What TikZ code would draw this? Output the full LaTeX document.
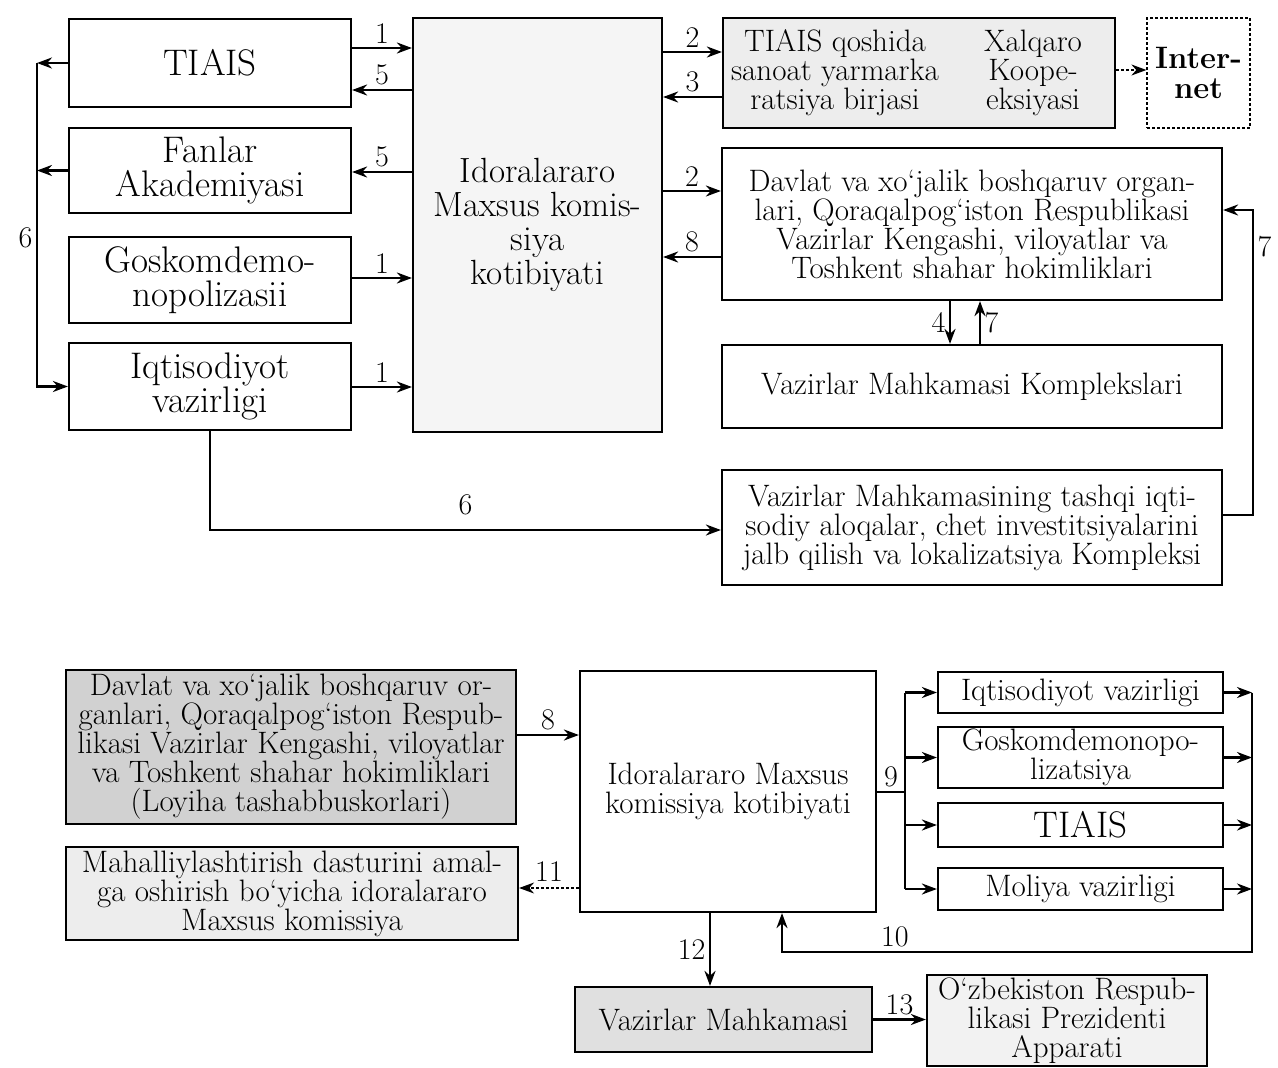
\documentclass[tikz,border=0pt]{standalone}
\usepackage{fontspec}
\usepackage{tikz}
\usetikzlibrary{positioning}
\usetikzlibrary{arrows.meta}
\newcommand{\boxfont}{\fontsize{31}{29}\selectfont}
\newcommand{\headfont}{\fontsize{37}{34}\selectfont}
\newcommand{\numfont}{\fontsize{30}{30}\selectfont}

\begin{document}
\begin{tikzpicture}[x=1pt, y=-1pt, line width=2.4pt, font=\numfont,
  >={Stealth[length=15pt, width=11pt]},
  block/.style={draw, line width=2.2pt, align=center, inner sep=0pt, font=\boxfont},
  headtext/.style={font=\headfont}]
\useasboundingbox (0,0) rectangle (1278,1068);

% upper scheme
\node[block, headtext, minimum width=282pt, minimum height=88pt] (tiais) at (210,63) {TIAIS};
\node[block, headtext, minimum width=282pt, minimum height=85pt] (fanlar) at (210,170.5) {Fanlar\\Akademiyasi};
\node[block, headtext, minimum width=282pt, minimum height=86pt] (goskom) at (210,280) {Goskomdemo-\\nopolizasii};
\node[block, headtext, minimum width=282pt, minimum height=87pt] (iqtisod) at (210,386.5) {Iqtisodiyot\\vazirligi};
\node[block, font=\fontsize{35}{34}\selectfont, fill=black!4, minimum width=249pt, minimum height=414pt] (kotib) at (537.5,225) {Idoralararo\\Maxsus komis-\\siya\\kotibiyati};
\node[block, fill=black!7, minimum width=392pt, minimum height=110pt] (birja) at (919,73) {};
\node[align=center, font=\boxfont] (birjaL) at (835,73) {TIAIS qoshida\\sanoat yarmarka\\ratsiya birjasi};
\node[align=center, font=\boxfont] (birjaR) at (1033,73) {Xalqaro\\Koope-\\eksiyasi};
\node[block, densely dashed, line width=1.2pt, font=\fontsize{31}{30}\selectfont\bfseries, minimum width=103pt, minimum height=110pt] (internet) at (1198.5,73) {Inter-\\net};
\node[block, minimum width=500pt, minimum height=152pt] (organ) at (972,224) {Davlat va xo`jalik boshqaruv organ-\\lari, Qoraqalpog`iston Respublikasi\\Vazirlar Kengashi, viloyatlar va\\Toshkent shahar hokimliklari};
\node[block, minimum width=500pt, minimum height=83pt] (kompl) at (972,386.5) {Vazirlar Mahkamasi Komplekslari};
\node[block, minimum width=500pt, minimum height=115pt] (tashqi) at (972,527.5) {Vazirlar Mahkamasining tashqi iqti-\\sodiy aloqalar, chet investitsiyalarini\\jalb qilish va lokalizatsiya Kompleksi};

\path[->]
  (tiais.east |- 0,48) edge node[above] {1} (kotib.west |- 0,48)
  (kotib.west |- 0,90) edge node[above] {5} (tiais.east |- 0,90)
  (kotib.west |- 0,172) edge node[above] {5} (fanlar.east |- 0,172)
  (goskom.east |- 0,278) edge node[above] {1} (kotib.west |- 0,278)
  (iqtisod.east |- 0,387) edge node[above] {1} (kotib.west |- 0,387)
  (kotib.east |- 0,52) edge node[above] {2} (birja.west |- 0,52)
  (birja.west |- 0,97) edge node[above] {3} (kotib.east |- 0,97)
  (kotib.east |- 0,191) edge node[above] {2} (organ.west |- 0,191)
  (organ.west |- 0,257) edge node[above] {8} (kotib.east |- 0,257)
  (organ.south -| 950,0) edge node[left] {4} (kompl.north -| 950,0)
  (kompl.north -| 980,0) edge node[right] {7} (organ.south -| 980,0);
\draw[->, densely dashed, line width=1.2pt] (birja.east |- 0,70) -- (internet.west |- 0,70);

\draw[->] (tiais.west) -- (tiais.west -| 37,0);
\draw[->] (fanlar.west) -- (fanlar.west -| 37,0);
\draw[->] (tiais.west -| 37,0) |- (iqtisod.west) node[pos=0.27, left] {6};
\draw[->] (iqtisod.south) |- (tashqi.west |- 0,530) node[pos=0.75, above=10pt] {6};
\draw[->] (tashqi.east |- 0,515) -- (1253,515) |- (organ.east |- 0,210) node[pos=0.44, right] {7};

% lower scheme
\node[block, fill=black!18, minimum width=450pt, minimum height=154pt] (loyiha) at (291,747) {Davlat va xo`jalik boshqaruv or-\\ganlari, Qoraqalpog`iston Respub-\\likasi Vazirlar Kengashi, viloyatlar\\va Toshkent shahar hokimliklari\\(Loyiha tashabbuskorlari)};
\node[block, fill=black!7, minimum width=452pt, minimum height=93pt] (dastur) at (292,893.5) {Mahalliylashtirish dasturini amal-\\ga oshirish bo`yicha idoralararo\\Maxsus komissiya};
\node[block, minimum width=296pt, minimum height=241pt] (kotibB) at (728,791.5) {Idoralararo Maxsus\\komissiya kotibiyati};
\node[block, minimum width=285pt, minimum height=41pt] (iqtisodB) at (1080.5,692.5) {Iqtisodiyot vazirligi};
\node[block, minimum width=285pt, minimum height=61pt] (goskomB) at (1080.5,757.5) {Goskomdemonopo-\\lizatsiya};
\node[block, headtext, minimum width=285pt, minimum height=44pt] (tiaisB) at (1080.5,825) {TIAIS};
\node[block, minimum width=285pt, minimum height=42pt] (moliya) at (1080.5,889) {Moliya vazirligi};
\node[block, fill=black!12, minimum width=297pt, minimum height=65pt] (vm) at (723.5,1019.5) {Vazirlar Mahkamasi};
\node[block, fill=black!5, minimum width=280pt, minimum height=91pt] (prezident) at (1067,1020.5) {O`zbekiston Respub-\\likasi Prezidenti\\Apparati};

\path[->]
  (loyiha.east |- 0,735) edge node[above] {8} (kotibB.west |- 0,735)
  (kotibB.south -| 710,0) edge node[left] {12} (vm.north -| 710,0)
  (vm.east) edge node[above] {13} (prezident.west |- vm.east);
\draw[->, densely dashed, line width=1.2pt] (kotibB.west |- 0,888) -- (dastur.east |- 0,888) node[midway, above=3pt] {11};

\draw (kotibB.east |- 0,792) -- (905,792) node[midway, above] {9};
\draw (iqtisodB.west -| 905,0) -- (moliya.west -| 905,0);
\path[->]
  (iqtisodB.west -| 905,0) edge (iqtisodB.west)
  (goskomB.west -| 905,0) edge (goskomB.west)
  (tiaisB.west -| 905,0) edge (tiaisB.west)
  (moliya.west -| 905,0) edge (moliya.west)
  (iqtisodB.east) edge (iqtisodB.east -| 1252,0)
  (goskomB.east) edge (goskomB.east -| 1252,0)
  (tiaisB.east) edge (tiaisB.east -| 1252,0)
  (moliya.east) edge (moliya.east -| 1252,0);
\draw[->] (iqtisodB.east -| 1252,0) -- (1252,952) -| (kotibB.south -| 782,0) node[pos=0.38, above] {10};
\end{tikzpicture}
\end{document}
